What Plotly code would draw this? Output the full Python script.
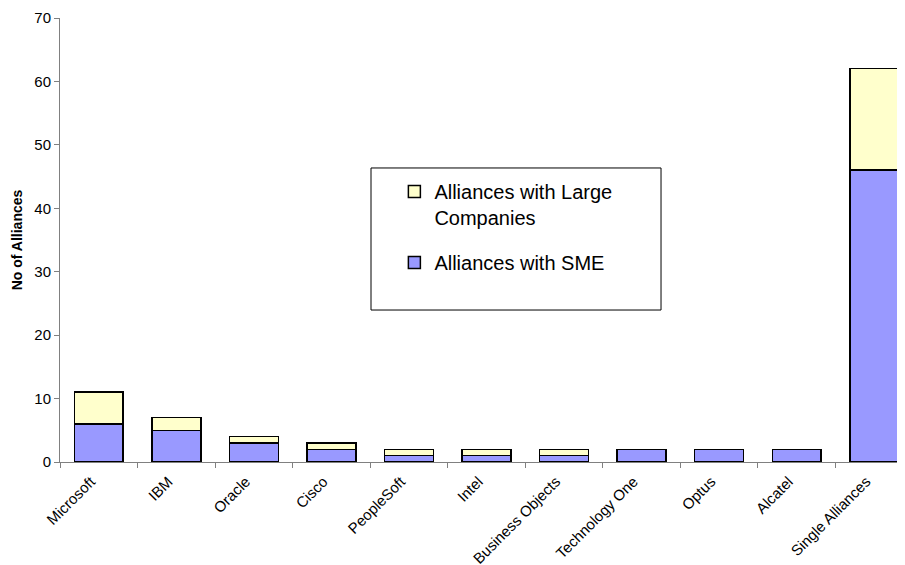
import plotly.graph_objects as go

categories = ["Microsoft", "IBM", "Oracle", "Cisco", "PeopleSoft", "Intel",
              "Business Objects", "Technology One", "Optus", "Alcatel", "Single Alliances"]
sme = [6, 5, 3, 2, 1, 1, 1, 2, 2, 2, 46]
large = [5, 2, 1, 1, 1, 1, 1, 0, 0, 0, 16]
y_ticks = [0, 10, 20, 30, 40, 50, 60, 70]

FONT = "Liberation Sans, Arial, sans-serif"

fig = go.Figure()
fig.add_trace(go.Bar(x=categories, y=sme, name="Alliances with SME",
                     legendgroup="sme", legendrank=2,
                     marker=dict(color="#9999FF", line=dict(color="black", width=1.5))))
fig.add_trace(go.Bar(x=categories, y=large, name="Alliances with Large<br>Companies",
                     legendgroup="large", legendrank=1,
                     marker=dict(color="#FFFFCC", line=dict(color="black", width=1.5))))

fig.update_layout(
    width=905, height=565,
    barmode="stack", bargap=0.37,
    plot_bgcolor="white", paper_bgcolor="white",
    margin=dict(l=52, r=0, t=10, b=111, autoexpand=False),
    font=dict(family=FONT, size=15, color="black"),
    showlegend=True,
    legend=dict(x=0.392, y=0.653, xanchor="left", yanchor="top",
                bgcolor="rgba(0,0,0,0)", borderwidth=0, valign="top",
                font=dict(size=20, family=FONT),
                traceorder="grouped", tracegroupgap=16),
    shapes=[dict(type="rect", xref="paper", yref="paper",
                 x0=0.3646, x1=0.7046, y0=0.3423, y1=0.6622,
                 line=dict(color="black", width=1), fillcolor="rgba(0,0,0,0)",
                 layer="below")],
)
fig.update_xaxes(range=[-0.5, 10.5], showline=True, linecolor="#808080", linewidth=1,
                 ticks="outside", tickson="boundaries", ticklen=5, tickcolor="#808080",
                 tickangle=-45, showgrid=False, tickfont=dict(size=15), automargin=False,
                 ticklabelshift=-8, ticklabelstandoff=4)
fig.update_yaxes(range=[0, 70], tickvals=y_ticks, showline=True, linecolor="#808080",
                 linewidth=1, ticks="outside", ticklen=5, tickcolor="#808080",
                 showgrid=False, zeroline=False, tickfont=dict(size=15), automargin=False,
                 title=dict(text="<b>No of Alliances</b>", font=dict(size=14), standoff=8))

fig.write_html("out.html")
